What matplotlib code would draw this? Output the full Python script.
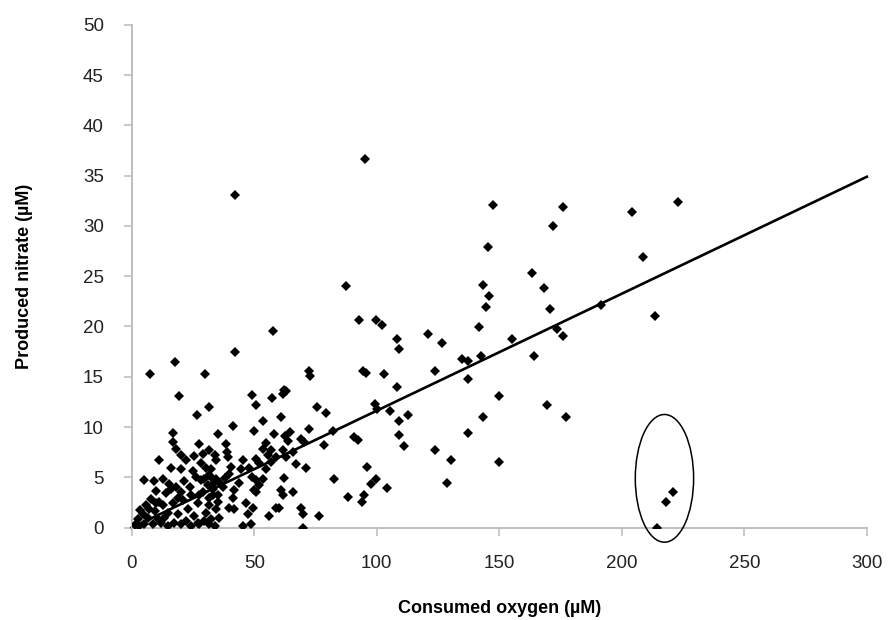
import numpy as np
import matplotlib.pyplot as plt
from matplotlib.patches import Ellipse

# consumed oxygen (uM) vs produced nitrate (uM)
consumed_oxygen = [
    # upper / sparse part
    42.2, 95.3, 147.4, 176.2, 171.8, 204.0, 222.9, 145.3, 163.4, 208.6,
    143.5, 168.4, 146.0, 144.7, 170.5, 191.6, 213.6, 141.9, 173.5, 175.9,
    155.1, 142.6, 164.1, 87.5, 92.9, 99.5, 102.2, 108.2, 109.0, 121.0,
    126.7, 72.3, 72.9, 94.4, 95.7, 102.9, 108.2, 123.8, 134.7, 137.1,
    137.1, 7.5, 17.8, 30.1, 42.2, 57.6, 62.3, 150.0, 169.4, 177.3,
    143.3, 137.1, 130.1, 149.7, 128.6, 220.8, 218.1, 214.3,
    # 60-125
    99.3, 100.0, 105.2, 112.7, 109.0, 109.0, 111.3, 75.5, 79.3, 72.2,
    82.3, 90.9, 92.5, 78.4, 123.6, 95.9, 82.7, 99.8, 97.7, 104.2,
    88.2, 94.7, 93.9, 76.3, 69.8, 69.1, 70.1, 61.7, 63.0, 61.0,
    64.4, 62.4, 63.8, 69.1, 70.5, 61.6, 65.7, 63.0, 67.1, 71.2,
    62.3, 65.7, 61.0, 61.6, 60.3,
    # 10-60
    19.3, 49.1, 50.8, 57.3, 31.4, 26.7, 53.5, 41.5, 50.1, 16.7,
    35.1, 58.2, 17.0, 18.1, 27.6, 38.5, 38.8, 31.7, 54.8, 56.9,
    53.6, 11.0, 20.2, 22.2, 25.6, 29.1, 33.8, 20.2, 30.4, 40.6,
    44.7, 52.1, 55.6, 5.2, 12.7, 15.4, 18.1, 10.0, 26.3, 28.3,
    34.4, 33.1, 41.9, 41.3, 49.1, 50.8, 50.1, 46.7, 49.5, 47.4,
    48.7, 45.3, 56.2, 58.9, 35.8, 31.7, 27.6, 34.4, 39.2, 54.9,
    56.9, 50.8, 58.9, 50.8, 52.1, 53.5, 41.9, 39.9, 31.7, 36.0,
    37.1, 33.1, 31.7, 35.1, 32.4,
    # dense cluster near the origin
    2.4, 4.5, 6.5, 9.3, 10.6, 12.7, 14.7, 16.7, 18.8, 20.8,
    22.9, 24.2, 25.6, 26.9, 29.0, 30.4, 31.7, 33.1, 34.4, 35.1,
    3.1, 5.2, 8.6, 12.0, 14.7, 17.4, 20.2, 22.2, 24.2, 26.9,
    29.7, 32.4, 33.8, 20.2, 23.6, 29.7, 32.4, 27.6, 31.0, 6.0,
    8.0, 11.0, 14.0, 3.5, 1.2, 7.2, 9.8, 13.2, 16.0, 18.9,
    21.5, 24.9, 28.2, 37.9, 39.6, 43.8, 45.6, 47.9, 8.9, 15.9,
]
produced_nitrate = [
    33.1, 36.7, 32.1, 31.9, 30.0, 31.4, 32.4, 27.9, 25.3, 26.9,
    24.1, 23.8, 23.0, 21.9, 21.7, 22.1, 21.0, 19.9, 19.8, 19.1,
    18.8, 17.1, 17.1, 24.0, 20.6, 20.6, 20.1, 18.8, 17.8, 19.3,
    18.4, 15.6, 15.1, 15.6, 15.4, 15.3, 14.0, 15.6, 16.8, 16.6,
    14.8, 15.3, 16.5, 15.3, 17.5, 19.6, 13.7, 13.1, 12.2, 11.0,
    11.0, 9.4, 6.7, 6.5, 4.4, 3.5, 2.5, 0.0,
    12.3, 11.8, 11.6, 11.2, 10.6, 9.2, 8.1, 12.0, 11.4, 9.8,
    9.6, 9.0, 8.7, 8.2, 7.7, 6.0, 4.8, 4.8, 4.3, 3.9,
    3.0, 3.2, 2.5, 1.2, 0.0, 2.0, 1.4, 13.3, 13.6, 11.0,
    9.5, 9.1, 8.6, 8.8, 8.5, 7.7, 7.5, 7.0, 6.3, 5.9,
    4.9, 3.5, 3.7, 3.2, 2.0,
    13.1, 13.2, 12.2, 12.9, 12.0, 11.2, 10.6, 10.1, 9.6, 9.4,
    9.3, 9.3, 8.5, 7.8, 8.3, 8.3, 7.5, 7.7, 8.4, 7.7,
    7.8, 6.7, 7.2, 6.7, 7.1, 7.3, 7.2, 5.8, 5.9, 6.0,
    5.8, 6.4, 7.2, 4.7, 4.8, 4.3, 4.0, 3.6, 5.0, 4.7,
    4.8, 4.3, 3.7, 2.9, 5.0, 4.7, 3.7, 2.4, 2.0, 1.4,
    0.4, 0.2, 1.2, 2.0, 1.0, 0.4, 0.4, 6.7, 7.0, 5.8,
    6.5, 6.8, 7.0, 3.5, 4.2, 4.8, 1.9, 2.0, 5.2, 4.4,
    4.0, 3.2, 2.2, 2.5, 5.8,
    0.9, 1.4, 1.0, 1.7, 0.9, 2.2, 1.5, 2.4, 1.4, 2.7,
    1.9, 3.2, 1.2, 2.4, 3.5, 1.5, 2.9, 3.8, 1.9, 3.2,
    0.2, 0.4, 0.4, 0.5, 0.2, 0.5, 0.4, 0.7, 0.2, 0.5,
    0.7, 0.9, 0.2, 3.5, 4.0, 4.8, 5.0, 3.2, 4.2, 2.2,
    2.8, 2.5, 3.4, 1.8, 0.3, 1.9, 2.4, 1.0, 3.8, 2.9,
    4.6, 5.6, 6.4, 4.9, 5.3, 4.4, 6.7, 5.9, 4.6, 5.9,
]

trend_slope = 0.1163
trend_x = [0, 300]

# circled outliers
circle_center = (217.4, 4.9)
circle_size = (23.8, 12.7)

plt.rcParams['font.family'] = ['Liberation Sans', 'DejaVu Sans']

fig = plt.figure(figsize=(8.9, 6.2), dpi=100)
ax = fig.add_axes([0.148, 0.149, 0.826, 0.811])

ax.plot(consumed_oxygen, produced_nitrate, 'D', color='black',
        markersize=5.2, markeredgewidth=0, zorder=3)
ax.plot(trend_x, [trend_slope * v for v in trend_x], color='black',
        linewidth=1.9, zorder=2, clip_on=False)

ax.add_patch(Ellipse(circle_center, circle_size[0], circle_size[1],
                     fill=False, edgecolor='black', linewidth=1.1,
                     clip_on=False, zorder=4))

ax.set_xlim(0, 300)
ax.set_ylim(0, 50)
ax.set_xticks(np.arange(0, 301, 50))
ax.set_yticks(np.arange(0, 51, 5))

for side in ['top', 'right']:
    ax.spines[side].set_visible(False)
for side in ['left', 'bottom']:
    ax.spines[side].set_color('#c0c0c0')
    ax.spines[side].set_linewidth(1.5)

ax.tick_params(axis='both', direction='out', length=6, width=1.2,
               color='#c0c0c0', labelsize=13.5, labelcolor='#222222')
ax.tick_params(axis='x', pad=14)
ax.tick_params(axis='y', pad=14)

ax.set_xlabel('Consumed oxygen (µM)', fontsize=13, fontweight='bold', labelpad=20)
ax.set_ylabel('Produced nitrate (µM)', fontsize=13, fontweight='bold', labelpad=36)

plt.savefig('out.png', dpi=100)
